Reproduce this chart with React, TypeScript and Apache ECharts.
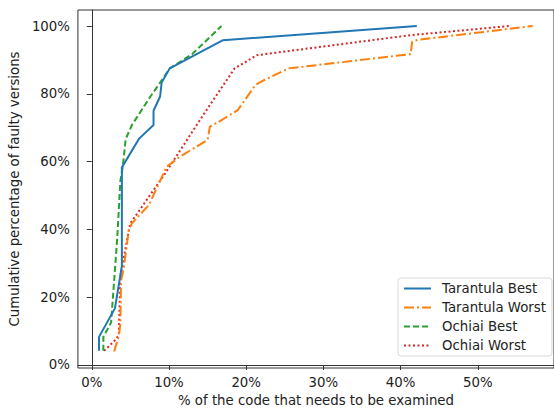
import React, { useEffect, useRef } from "react";
import * as echarts from "echarts";

const xTicks = [0, 10, 20, 30, 40, 50];
const yTicks = [0, 20, 40, 60, 80, 100];

const seriesNames = ["Tarantula Best", "Tarantula Worst", "Ochiai Best", "Ochiai Worst"];

const tarantulaBestX = [0.94, 0.94, 3.0, 3.9, 3.9, 6.1, 8.0, 8.0, 8.85, 9.05, 10.1, 17.0, 42.1];
const tarantulaBestY = [4.2, 8.3, 16.7, 29.2, 58.3, 66.7, 70.8, 75.0, 79.2, 83.3, 87.5, 95.8, 100];

const tarantulaWorstX = [2.9, 3.5, 3.7, 3.8, 4.1, 4.8, 5.2, 7.4, 9.7, 11.4, 15.0, 15.3, 16.5, 18.9, 21.2, 22.3, 25.5, 41.3, 41.5, 42.2, 57.1];
const tarantulaWorstY = [4.0, 8.5, 12.0, 25.0, 28.0, 39.8, 41.8, 47.2, 58.5, 61.4, 66.4, 70.3, 71.8, 75.2, 82.6, 84.0, 87.5, 91.7, 95.4, 95.9, 100];

const ochiaiBestX = [1.5, 1.5, 2.5, 2.9, 3.3, 3.7, 4.0, 4.4, 5.2, 7.6, 8.85, 10.1, 13.0, 16.8];
const ochiaiBestY = [4.2, 8.3, 12.5, 25.0, 37.5, 54.2, 58.3, 66.7, 70.8, 79.2, 83.3, 87.5, 91.7, 100];

const ochiaiWorstX = [1.6, 2.9, 3.5, 3.7, 4.8, 5.0, 9.5, 14.8, 18.5, 21.4, 41.3, 54.1];
const ochiaiWorstY = [4.2, 7.0, 8.8, 26.0, 39.8, 41.8, 56.5, 75.0, 87.5, 91.4, 97.3, 100];

const zip = (xs: number[], ys: number[]) => xs.map((x, i) => [x, ys[i]]);

const colors = ["#1f77b4", "#ff7f0e", "#2ca02c", "#d62728"];
const dashTypes: any[] = ["solid", [10, 3, 2, 3], [6, 3], [2, 2.5]];

export default function App() {
  const ref = useRef<HTMLDivElement>(null);
  useEffect(() => {
    if (!ref.current) return;
    const chart = echarts.init(ref.current, null, { renderer: "svg" });
    const font = "DejaVu Sans";
    const fs = 13.3;
    const datas = [
      zip(tarantulaBestX, tarantulaBestY),
      zip(tarantulaWorstX, tarantulaWorstY),
      zip(ochiaiBestX, ochiaiBestY),
      zip(ochiaiWorstX, ochiaiWorstY),
    ];
    chart.setOption({
      animation: false,
      backgroundColor: "#ffffff",
      textStyle: { fontFamily: font },
      grid: {
        left: 77,
        top: 10,
        right: -4,
        bottom: 46,
        show: true,
        borderColor: "#333",
        borderWidth: 1,
        backgroundColor: "transparent",
      },
      xAxis: {
        type: "value",
        min: -1.795,
        max: 59.87,
        name: "% of the code that needs to be examined",
        nameLocation: "middle",
        nameGap: 26,
        nameTextStyle: { fontFamily: font, fontSize: fs, color: "#222" },
        axisLine: { show: true, lineStyle: { color: "#333", width: 1 } },
        axisTick: { show: true, length: 5, inside: false, customValues: xTicks, lineStyle: { color: "#333" } },
        axisLabel: {
          customValues: xTicks,
          formatter: (v: number) => `${v}%`,
          fontFamily: font,
          fontSize: fs,
          color: "#222",
          margin: 8,
        },
        splitLine: { show: false },
      },
      yAxis: {
        type: "value",
        min: -0.885,
        max: 104.72,
        name: "Cumulative percentage of faulty versions",
        nameLocation: "middle",
        nameGap: 52,
        nameTextStyle: { fontFamily: font, fontSize: fs, color: "#222" },
        axisLine: { show: true, lineStyle: { color: "#333", width: 1 } },
        axisTick: { show: true, length: 5, inside: false, customValues: yTicks, lineStyle: { color: "#333" } },
        axisLabel: {
          customValues: yTicks,
          formatter: (v: number) => `${v}%`,
          fontFamily: font,
          fontSize: fs,
          color: "#222",
          margin: 8,
        },
        splitLine: { show: false },
      },
      legend: {
        orient: "vertical",
        left: 398,
        top: 278,
        padding: [4, 6, 4, 5],
        itemWidth: 27,
        itemHeight: 14,
        itemGap: 6,
        backgroundColor: "#ffffff",
        borderColor: "#d8d8d8",
        borderWidth: 1,
        borderRadius: 3,
        itemStyle: { color: "transparent", borderWidth: 0, opacity: 0 },
        textStyle: { fontFamily: font, fontSize: fs, color: "#222", padding: [0, 0, 0, 6] },
        data: seriesNames,
      },
      series: seriesNames.map((name, i) => ({
        name,
        type: "line",
        data: datas[i],
        symbol: "none",
        clip: true,
        z: 2 + (3 - i),
        lineStyle: { color: colors[i], width: 2, type: dashTypes[i] },
        itemStyle: { color: colors[i] },
      })),
    });
    return () => chart.dispose();
  }, []);
  return <div ref={ref} style={{ width: 554, height: 414, position: "absolute", left: 0, top: 0 }} />;
}
